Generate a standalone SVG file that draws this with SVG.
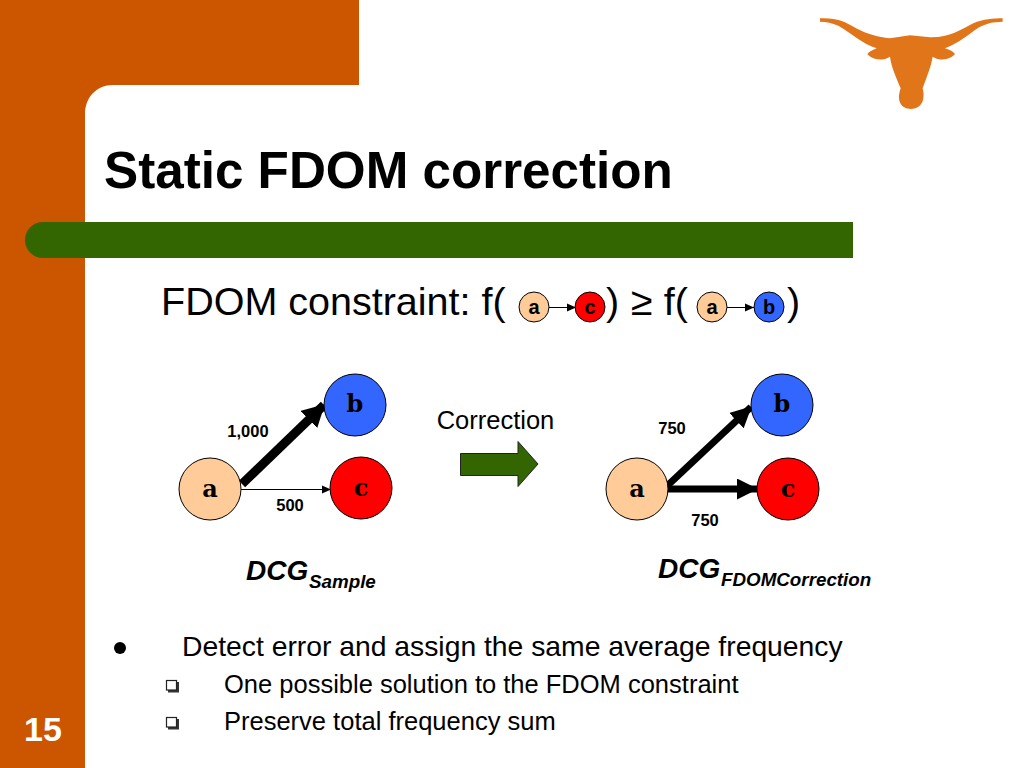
<svg xmlns="http://www.w3.org/2000/svg" width="1024" height="768" viewBox="0 0 1024 768">
<style>
text{font-family:"Liberation Sans",Arial,sans-serif;fill:#000}
.n{stroke:#000;stroke-width:1}
.a{fill:#FFCC99}.b{fill:#3366FF}.c{fill:#FF0000}
.m{font-family:"DejaVu Serif","Liberation Mono",monospace;font-weight:bold;font-size:24px;text-anchor:middle}
.s{font-size:20px}
.l{font-size:16.5px;font-weight:bold;text-anchor:middle}
.d{font-size:28px;font-weight:bold;font-style:italic}
.e{font-size:18.8px;font-weight:bold;font-style:italic}
.h{font-size:39.500px}
.b1{font-size:28.300px}
.b2{font-size:25.500px}
.edge{stroke:#000;fill:none}
.box{fill:#fff;stroke:#222;stroke-width:1.2}
.sh{fill:#333}
</style>
<defs>
<marker id="big" markerUnits="userSpaceOnUse" markerWidth="22" markerHeight="24" refX="21" refY="12" orient="auto"><path d="M0,0L22,12L0,24Z" fill="#000"/></marker>
<marker id="mid" markerUnits="userSpaceOnUse" markerWidth="21" markerHeight="21" refX="20" refY="10.500" orient="auto"><path d="M0,0L21,10.500L0,21Z" fill="#000"/></marker>
<marker id="sm" markerUnits="userSpaceOnUse" markerWidth="10" markerHeight="10" refX="9" refY="5" orient="auto"><path d="M0,1L9,5L0,9Z" fill="#000"/></marker>
</defs>
<rect width="1024" height="768" fill="#fff"/>
<g id="background">
<path d="M0,0H359V85H113C96,85 85,98 85,114V768H0Z" fill="#CC5500"/>
<path d="M43,222H853V258H43A18,18 0 0 1 43,222Z" fill="#336600"/>
<path id="longhorn" transform="translate(810,5) scale(.3333)" fill="#E0751A" d="M30,40C60,39 85,43 105,52C135,66 165,92 240,100L300,91L360,97C420,98 450,75 490,55C520,42 550,40 578,40V50C550,51 530,54 505,68C475,88 450,112 405,130C420,135 430,140 435,147C425,160 395,172 368,155C362,190 350,215 338,250C348,290 330,312 303,312C275,312 258,290 272,250C258,215 245,190 240,155C212,172 182,160 172,147C177,140 190,135 200,130C160,118 125,85 85,62C65,53 50,51 30,50Z"/>
<text x="24" y="741" font-size="34" font-weight="bold" style="fill:#fff">15</text>
</g>
<text id="title" x="104" y="188" font-size="51.200" font-weight="bold">Static FDOM correction</text>
<g id="constraint">
<text class="h" x="161" y="315">FDOM constraint: f(</text>
<text class="h" x="606" y="315">)</text>
<text class="h" x="631" y="315">≥ f(</text>
<text class="h" x="787" y="315">)</text>
</g>
<g id="connectors">
<path class="edge" d="M549,307.500H576" marker-end="url(#sm)"/>
<path class="edge" d="M727,307.500H754" marker-end="url(#sm)"/>
<path class="edge" stroke-width="9" d="M242,484L324,405" marker-end="url(#big)"/>
<path class="edge" stroke-width="1" d="M241,489.500H331" marker-end="url(#sm)"/>
<path class="edge" stroke-width="7" d="M667,486L751,407" marker-end="url(#mid)"/>
<path class="edge" stroke-width="7" d="M667,489H757" marker-end="url(#mid)"/>
</g>
<g id="small-a1"><circle class="n a" cx="534" cy="307" r="15"/><text class="s" x="534" y="314" text-anchor="middle" font-weight="bold">a</text></g>
<g id="small-c"><circle class="n c" cx="590" cy="307" r="15"/><text class="s" x="590" y="314" text-anchor="middle" font-weight="bold">c</text></g>
<g id="small-a2"><circle class="n a" cx="712" cy="307" r="15"/><text class="s" x="712" y="314" text-anchor="middle" font-weight="bold">a</text></g>
<g id="small-b"><circle class="n b" cx="769" cy="307" r="15"/><text class="s" x="769" y="314" text-anchor="middle" font-weight="bold">b</text></g>
<g id="left-a"><circle class="n a" cx="210" cy="489" r="31"/><text class="m" x="210" y="497">a</text></g>
<g id="left-b"><circle class="n b" cx="355" cy="405" r="31"/><text class="m" x="355" y="412">b</text></g>
<g id="left-c"><circle class="n c" cx="361" cy="488" r="31"/><text class="m" x="361" y="496">c</text></g>
<g id="right-a"><circle class="n a" cx="637" cy="489" r="31"/><text class="m" x="637" y="497">a</text></g>
<g id="right-b"><circle class="n b" cx="782" cy="405" r="31"/><text class="m" x="782" y="412">b</text></g>
<g id="right-c"><circle class="n c" cx="788" cy="489" r="31"/><text class="m" x="788" y="497">c</text></g>
<g id="labels">
<text class="l" x="248" y="437">1,000</text>
<text class="l" x="290" y="511">500</text>
<text class="l" x="672" y="434">750</text>
<text class="l" x="705" y="526">750</text>
<text x="495.500" y="429" font-size="25.500" text-anchor="middle">Correction</text>
<text x="246" y="580" class="d">DCG</text><text x="309" y="588" class="e">Sample</text>
<text x="658" y="578" class="d">DCG</text><text x="721" y="586" class="e">FDOMCorrection</text>
</g>
<g id="correction-arrow"><path d="M460.500,453.500H518V441.500L538,464L518,486.500V475.500H460.500Z" fill="#336600" stroke="#222" stroke-width="1"/></g>
<g id="bullets">
<circle cx="120" cy="648" r="6" fill="#000"/>
<text class="b1" x="182" y="656">Detect error and assign the same average frequency</text>
<rect class="sh" x="168" y="682" width="11" height="10.500"/><rect class="box" x="166.500" y="680.500" width="10" height="9.500"/>
<text class="b2" x="224" y="693">One possible solution to the FDOM constraint</text>
<rect class="sh" x="168" y="719" width="11" height="10.500"/><rect class="box" x="166.500" y="717.500" width="10" height="9.500"/>
<text class="b2" x="224" y="730">Preserve total frequency sum</text>
</g>
</svg>
